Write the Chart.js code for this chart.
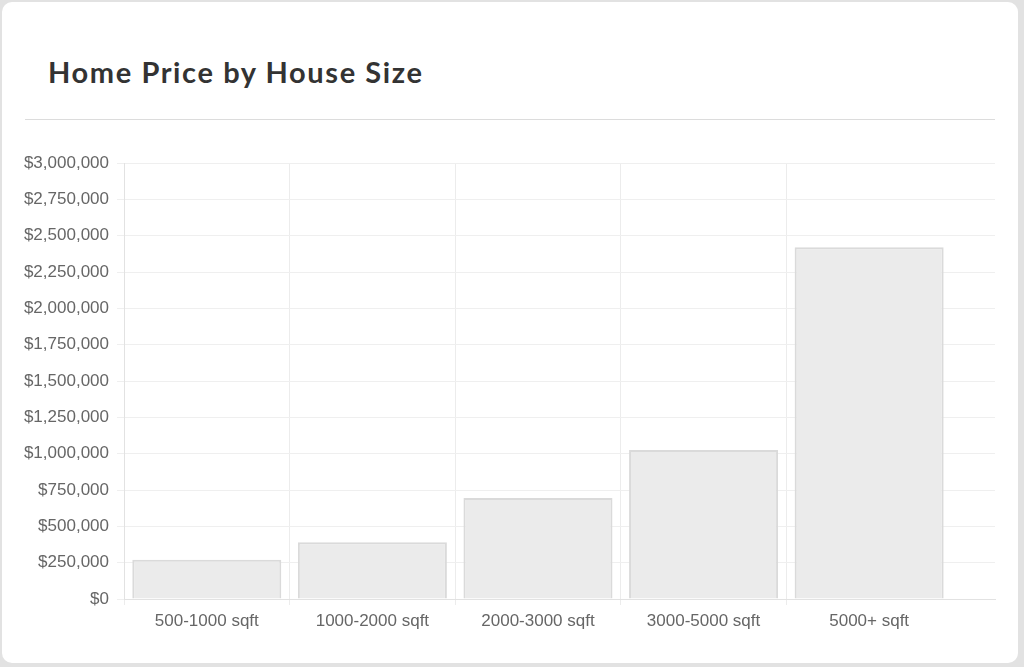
<!DOCTYPE html>
<html>
<head>
<meta charset="utf-8">
<script src="https://cdn.jsdelivr.net/npm/chart.js@4/dist/chart.umd.min.js"></script>
<style>
  html, body { margin: 0; padding: 0; }
  body { width: 1024px; height: 667px; background: #e2e2e2; position: relative; overflow: hidden; }
  .card {
    position: absolute; left: 2px; top: 2px; width: 1016px; height: 661px;
    background: #fff; border-radius: 10px;
  }
  h1 {
    position: absolute; left: 48px; top: 54px; margin: 0;
    font-family: Lato, "Open Sans", sans-serif; font-weight: 700; font-size: 29px;
    letter-spacing: 1.6px; color: #333; line-height: 36px;
  }
  .rule { position: absolute; left: 25px; top: 119px; width: 970px; height: 1px; background: #dcdcdc; }
  #wrap { position: absolute; left: 0; top: 130px; width: 1024px; height: 520px; }
</style>
</head>
<body>
<div class="card"></div>
<h1>Home Price by House Size</h1>
<div class="rule"></div>
<div id="wrap"><canvas id="priceChart"></canvas></div>
<script>
// house size buckets and average home price for each
let sizeLabels = ["500-1000 sqft", "1000-2000 sqft", "2000-3000 sqft", "3000-5000 sqft", "5000+ sqft"];
let homePrices = [270000, 390000, 695000, 1025000, 2420000];

let priceCanvas = document.getElementById('priceChart');
let tickFont = { family: "'Liberation Sans', Arial, sans-serif", size: 17 };

let priceChart = new Chart(priceCanvas, {
    type: "bar",
    data: {
        datasets: [{
            data: homePrices.map((v, i) => ({ x: i, y: v })),
            backgroundColor: "#ebebeb",
            borderColor: "#dadada",
            borderWidth: 2,
            barPercentage: 0.9,
            categoryPercentage: 1.0
        }]
    },
    options: {
        responsive: true,
        maintainAspectRatio: false,
        animation: false,
        layout: { padding: { left: 0, right: 29, top: 33, bottom: 0 } },
        plugins: { legend: { display: false }, tooltip: { enabled: false } },
        scales: {
            x: {
                type: "linear",
                min: -0.5,
                max: 4.76,
                bounds: "data",
                offset: false,
                grid: {
                    offset: true,
                    tickLength: 6,
                    // no line after the last bucket
                    color: ctx => ctx.index === undefined || ctx.index >= sizeLabels.length ? "rgba(0,0,0,0)" : "#ececec"
                },
                border: { color: "#e2e2e2" },
                ticks: {
                    autoSkip: false,
                    maxRotation: 0,
                    padding: 6,
                    color: "#666",
                    font: tickFont,
                    callback: v => sizeLabels[v] || ""
                },
                afterBuildTicks: scale => {
                    scale.ticks = sizeLabels.map((_, i) => ({ value: i }));
                },
                afterFit: scale => { scale.height = 51; }
            },
            y: {
                min: 0,
                max: 3000000,
                grid: { color: "#efefef", tickLength: 7 },
                border: { color: "#e2e2e2" },
                ticks: {
                    stepSize: 250000,
                    padding: 8,
                    color: "#666",
                    font: tickFont,
                    callback: v => "$" + v.toLocaleString("en-US")
                },
                afterFit: scale => { scale.width = 124; }
            }
        }
    }
});
</script>
</body>
</html>
